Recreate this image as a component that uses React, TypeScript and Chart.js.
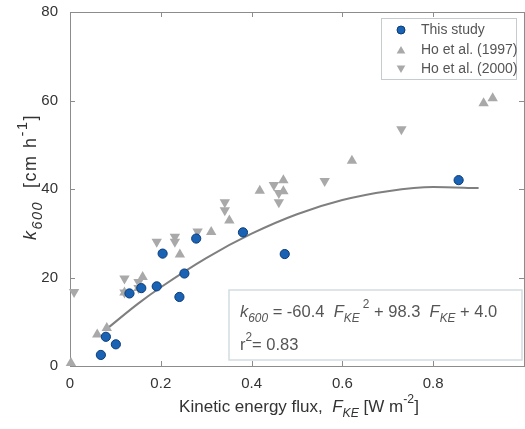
import React, { useEffect, useRef } from "react";
import { Chart, registerables } from "chart.js";

Chart.register(...registerables);

// ---------- data ----------
const thisStudyX = [0.068, 0.079, 0.101, 0.131, 0.157, 0.191, 0.204, 0.241, 0.252, 0.278, 0.381, 0.473, 0.856];
const thisStudyY = [2.5, 6.6, 4.9, 16.4, 17.6, 18.0, 25.4, 15.6, 20.9, 28.8, 30.2, 25.3, 42.0];

const ho1997X = [0.002, 0.06, 0.081, 0.12, 0.151, 0.16, 0.242, 0.311, 0.351, 0.418, 0.47, 0.47, 0.621, 0.911, 0.931];
const ho1997Y = [0.7, 7.1, 8.6, 16.6, 17.6, 20.1, 25.2, 30.3, 32.9, 39.6, 42.0, 39.5, 46.4, 59.4, 60.5];

const ho2000X = [0.009, 0.12, 0.12, 0.151, 0.151, 0.191, 0.231, 0.231, 0.281, 0.341, 0.341, 0.449, 0.46, 0.46, 0.561, 0.73];
const ho2000Y = [16.7, 19.8, 16.6, 19.0, 17.6, 28.1, 29.2, 28.1, 30.4, 37.0, 35.2, 40.9, 39.1, 37.0, 41.8, 53.5];

// fitted curve as drawn in the picture
const fitX = [0.08, 0.15, 0.2, 0.3, 0.4, 0.5, 0.6, 0.7, 0.8, 0.9];
const fitY = [8.3, 14.1, 17.8, 24.4, 29.9, 34.3, 37.5, 39.5, 40.45, 40.2];

const xTicks = [0, 0.2, 0.4, 0.6, 0.8];
const xTickLabels = ["0", "0.2", "0.4", "0.6", "0.8"];
const yTicks = [0, 20, 40, 60, 80];
const yTickLabels = ["0", "20", "40", "60", "80"];

const seriesNames = ["This study", "Ho et al. (1997)", "Ho et al. (2000)"];
const eqLine1 = ["k", "600", " = -60.4  ", "F", "KE", " 2", " + 98.3  ", "F", "KE", " + 4.0"];
const eqLine2 = ["r", "2", "= 0.83"];

const FONT = '"Liberation Sans", Arial, sans-serif';
const BLUE = "#1a62b3";
const BLUE_EDGE = "#0c3c78";
const GRAY = "#a9a9a9";
const AXIS = "#8c8c8c";

type Seg = { t: string; it?: boolean; sub?: boolean; sup?: boolean };

function segFont(s: Seg, size: number, scriptScale: number) {
  const sz = s.sub || s.sup ? size * scriptScale : size;
  return `${s.it ? "italic " : ""}${sz}px ${FONT}`;
}

function drawRich(
  ctx: CanvasRenderingContext2D,
  segs: Seg[],
  x: number,
  y: number,
  size: number,
  color: string,
  align: "left" | "center",
  scriptScale = 0.72,
  spacing = 0
) {
  ctx.save();
  ctx.fillStyle = color;
  ctx.textBaseline = "middle";
  ctx.textAlign = "left";
  (ctx as any).letterSpacing = `${spacing}px`;
  let total = 0;
  for (const s of segs) {
    ctx.font = segFont(s, size, scriptScale);
    total += ctx.measureText(s.t).width;
  }
  let cx = align === "center" ? x - total / 2 : x;
  for (const s of segs) {
    ctx.font = segFont(s, size, scriptScale);
    const dy = s.sub ? size * 0.38 : s.sup ? -size * 0.42 : 0;
    ctx.fillText(s.t, cx, y + dy);
    cx += ctx.measureText(s.t).width;
  }
  ctx.restore();
}

function tri(ctx: CanvasRenderingContext2D, x: number, y: number, r: number, down: boolean) {
  const h = r * 1.5;
  const w = r * Math.sqrt(3);
  ctx.beginPath();
  if (!down) {
    ctx.moveTo(x, y - r);
    ctx.lineTo(x + w / 2, y - r + h);
    ctx.lineTo(x - w / 2, y - r + h);
  } else {
    ctx.moveTo(x, y + r);
    ctx.lineTo(x + w / 2, y + r - h);
    ctx.lineTo(x - w / 2, y + r - h);
  }
  ctx.closePath();
  ctx.fill();
}

const decorPlugin = {
  id: "decor",
  beforeDatasetsDraw(chart: any) {
    const { ctx, chartArea: a, scales } = chart;
    const x = scales.x;
    const y = scales.y;
    ctx.save();
    ctx.strokeStyle = AXIS;
    ctx.lineWidth = 1;
    ctx.strokeRect(Math.round(a.left) + 0.5, Math.round(a.top) + 0.5, a.right - a.left, Math.round(a.bottom - a.top));
    ctx.beginPath();
    for (const v of xTicks) {
      const px = Math.round(x.getPixelForValue(v)) + 0.5;
      ctx.moveTo(px, a.bottom);
      ctx.lineTo(px, a.bottom - 5);
      ctx.moveTo(px, a.top);
      ctx.lineTo(px, a.top + 5);
    }
    for (const v of yTicks) {
      const py = Math.round(y.getPixelForValue(v)) + 0.5;
      ctx.moveTo(a.left, py);
      ctx.lineTo(a.left + 5, py);
      ctx.moveTo(a.right, py);
      ctx.lineTo(a.right - 5, py);
    }
    ctx.stroke();
    ctx.restore();
  },
  afterDatasetsDraw(chart: any) {
    const { ctx } = chart;
    ctx.save();
    // equation box
    ctx.fillStyle = "#ffffff";
    ctx.strokeStyle = "#d3dde2";
    ctx.lineWidth = 1.5;
    ctx.fillRect(229, 290, 293, 70);
    ctx.strokeRect(229, 290, 293, 70);
    const e = eqLine1;
    drawRich(
      ctx,
      [
        { t: e[0], it: true },
        { t: e[1], it: true, sub: true },
        { t: e[2] },
        { t: e[3], it: true },
        { t: e[4], it: true, sub: true },
        { t: e[5], sup: true },
        { t: e[6] },
        { t: e[7], it: true },
        { t: e[8], it: true, sub: true },
        { t: e[9] },
      ],
      240,
      312,
      16.5,
      "#555555",
      "left"
    );
    drawRich(ctx, [{ t: eqLine2[0] }, { t: eqLine2[1], sup: true }, { t: eqLine2[2] }], 240, 345, 16.5, "#555555", "left");

    // legend
    ctx.fillStyle = "#ffffff";
    ctx.strokeStyle = "#c5ccd0";
    ctx.lineWidth = 1;
    ctx.fillRect(381.5, 18.5, 135, 61);
    ctx.strokeRect(381.5, 18.5, 135, 61);
    const rows = [30, 50, 69];
    ctx.fillStyle = BLUE;
    ctx.strokeStyle = BLUE_EDGE;
    ctx.beginPath();
    ctx.arc(401, rows[0], 4, 0, Math.PI * 2);
    ctx.fill();
    ctx.stroke();
    ctx.fillStyle = GRAY;
    tri(ctx, 401, rows[1] + 1, 5, false);
    tri(ctx, 401, rows[2] - 1, 5, true);
    ctx.fillStyle = "#555555";
    ctx.font = `14px ${FONT}`;
    ctx.textBaseline = "middle";
    ctx.textAlign = "left";
    seriesNames.forEach((n, i) => ctx.fillText(n, 421, rows[i]));
    ctx.restore();
  },
  afterDraw(chart: any) {
    const { ctx } = chart;
    drawRich(
      ctx,
      [
        { t: "Kinetic energy flux,  " },
        { t: "F", it: true },
        { t: "KE", it: true, sub: true },
        { t: " [W m" },
        { t: "-2", sup: true },
        { t: "]" },
      ],
      299,
      407,
      17,
      "#333333",
      "center"
    );
    ctx.save();
    ctx.translate(31, 177);
    ctx.rotate(-Math.PI / 2);
    drawRich(
      ctx,
      [
        { t: "k", it: true },
        { t: "600", it: true, sub: true },
        { t: "  [cm h" },
        { t: "-1", sup: true },
        { t: "]" },
      ],
      0,
      0,
      18,
      "#333333",
      "center",
      0.8,
      1.5
    );
    ctx.restore();
  },
};

function pts(xs: number[], ys: number[]) {
  return xs.map((v, i) => ({ x: v, y: ys[i] }));
}

export default function App() {
  const ref = useRef<HTMLCanvasElement | null>(null);
  useEffect(() => {
    if (!ref.current) return;
    const chart = new Chart(ref.current, {
      type: "scatter",
      data: {
        datasets: [
          {
            label: seriesNames[0],
            data: pts(thisStudyX, thisStudyY),
            pointStyle: "circle",
            pointRadius: 4.6,
            backgroundColor: BLUE,
            borderColor: BLUE_EDGE,
            borderWidth: 1,
            order: 1,
            clip: false,
          } as any,
          {
            label: seriesNames[1],
            data: pts(ho1997X, ho1997Y),
            pointStyle: "triangle",
            pointRadius: 6,
            backgroundColor: GRAY,
            borderColor: GRAY,
            borderWidth: 0,
            order: 2,
            clip: false,
          } as any,
          {
            label: seriesNames[2],
            data: pts(ho2000X, ho2000Y),
            pointStyle: "triangle",
            rotation: 180,
            pointRadius: 6,
            backgroundColor: GRAY,
            borderColor: GRAY,
            borderWidth: 0,
            order: 3,
            clip: false,
          } as any,
          {
            type: "line",
            label: "fit",
            data: pts(fitX, fitY),
            showLine: true,
            pointRadius: 0,
            borderColor: "#7f7f7f",
            borderWidth: 2,
            tension: 0.4,
            cubicInterpolationMode: "monotone",
            fill: false,
            order: 10,
          } as any,
        ],
      },
      options: {
        animation: false,
        responsive: false,
        devicePixelRatio: 1,
        layout: { padding: { top: 12, right: 2.5, left: 0, bottom: 0 } },
        plugins: { legend: { display: false }, tooltip: { enabled: false } },
        scales: {
          x: {
            type: "linear",
            min: 0,
            max: 1,
            grid: { display: false, drawTicks: false },
            border: { display: false },
            afterBuildTicks: (s: any) => {
              s.ticks = xTicks.map((v) => ({ value: v }));
            },
            afterFit: (s: any) => {
              s.height = 63;
              s.paddingLeft = 0;
              s.paddingRight = 0;
            },
            ticks: {
              padding: 9,
              color: "#333333",
              font: { family: FONT, size: 15 },
              maxRotation: 0,
              autoSkip: false,
              callback: (v: any) => xTickLabels[xTicks.indexOf(Number(v))] ?? "",
            },
          },
          y: {
            type: "linear",
            min: 0,
            max: 80,
            grid: { display: false, drawTicks: false },
            border: { display: false },
            afterBuildTicks: (s: any) => {
              s.ticks = yTicks.map((v) => ({ value: v }));
            },
            afterFit: (s: any) => {
              s.width = 70;
              s.paddingTop = 0;
              s.paddingBottom = 0;
            },
            ticks: {
              padding: 12,
              color: "#333333",
              font: { family: FONT, size: 15 },
              autoSkip: false,
              callback: (v: any) => yTickLabels[yTicks.indexOf(Number(v))] ?? "",
            },
          },
        },
      } as any,
      plugins: [decorPlugin],
    });
    return () => chart.destroy();
  }, []);
  return (
    <div style={{ position: "fixed", left: 0, top: 0, width: 525, height: 429, overflow: "hidden", background: "#fff" }}>
      <canvas ref={ref} width={530} height={429} style={{ width: 530, height: 429, display: "block" }} />
    </div>
  );
}
